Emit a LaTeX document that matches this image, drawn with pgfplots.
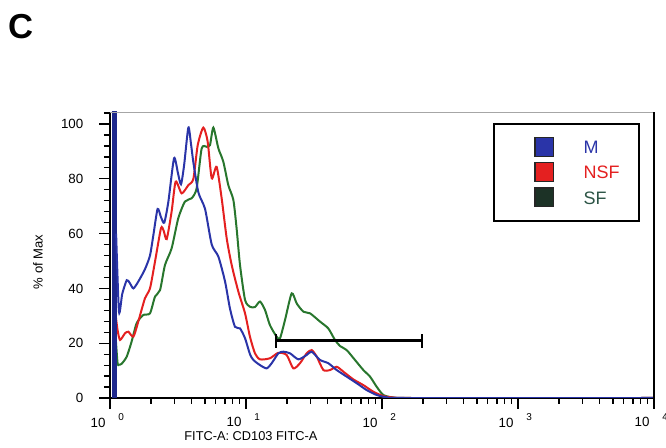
\documentclass[border=0pt]{standalone}
\usepackage{pgfplots}
\pgfplotsset{compat=1.18}
\usepackage{fontspec}
\setmainfont{Liberation Sans}
\definecolor{mblue}{RGB}{42,52,168}
\definecolor{spikeblue}{RGB}{30,40,140}
\definecolor{nred}{RGB}{228,32,32}
\definecolor{sgreen}{RGB}{40,118,45}
\definecolor{sqgreen}{RGB}{28,50,38}
\definecolor{sftext}{RGB}{45,85,70}
\newcommand\dec[1]{10\hspace{9.75pt}\raisebox{5pt}{\fontsize{7.5}{8}\selectfont #1}}
\begin{document}
\begin{tikzpicture}
\path[use as bounding box] (-82.5pt,-37.5pt) rectangle (417pt,298.5pt);
\begin{axis}[
  name=ax, at={(0,0)}, anchor=south west,
  width=408pt, height=214.5pt, scale only axis,
  xmin=0, xmax=4, ymin=0, ymax=104.4,
  axis x line*=bottom, axis y line*=left,
  axis line style={line width=1.1pt, black},
  tick align=outside,
  major tick length=8pt, minor tick length=4.5pt,
  every tick/.style={black, line width=0.9pt},
  xtick={0,1,2,3,4},
  xticklabels={\dec{0},\dec{1},\dec{2},\dec{3},\dec{4}},
  minor xtick={0.301,0.477,0.602,0.699,0.778,0.845,0.903,0.954,
               1.301,1.477,1.602,1.699,1.778,1.845,1.903,1.954,
               2.301,2.477,2.602,2.699,2.778,2.845,2.903,2.954,
               3.301,3.477,3.602,3.699,3.778,3.845,3.903,3.954},
  ytick={0,20,40,60,80,100},
  minor ytick={4,8,12,16,24,28,32,36,44,48,52,56,64,68,72,76,84,88,92,96,104},
  tick label style={font=\fontsize{10}{12}\selectfont},
  xticklabel style={xshift=-2pt},
  yticklabel style={xshift=-8.5pt},
  /pgf/number format/assume math mode=true,
  ylabel={\% of Max},
  ylabel style={at={(axis description cs:-0.1324,0.4755)}, anchor=center, font=\fontsize{9.8}{12}\selectfont},
  xlabel={FITC-A: CD103 FITC-A},
  xlabel style={at={(axis description cs:0.259,-0.1329)}, anchor=center, font=\fontsize{9.6}{12}\selectfont},
  legend cell align=left,
  legend style={at={(0.704,0.9615)}, anchor=north west, draw=black, line width=1.5pt,
    inner xsep=12.25pt, inner ysep=10pt, row sep=4pt,
    font=\fontsize{13.5}{14}\selectfont,
    nodes={text height=10pt, text depth=0pt, inner sep=2pt}},
]
% SF (green)
\addplot[sgreen, line width=1.5pt, smooth, tension=0.4, forget plot] coordinates {
(0.035,27) (0.055,13) (0.066,12.2) (0.086,12.5) (0.123,15.1) (0.159,20.6) (0.196,27.3)
(0.245,30.3) (0.294,30.9) (0.331,37) (0.368,39.4) (0.404,48.5) (0.453,54.6) (0.502,65.6)
(0.551,71.7) (0.600,72.9) (0.637,76.5) (0.674,91.1) (0.711,91.7) (0.735,92.3) (0.760,98.7)
(0.797,91.1) (0.833,86.3) (0.870,77.7) (0.907,72.3) (0.931,61.9) (0.956,48.5) (0.993,35.8)
(1.029,33.3) (1.066,33.2) (1.103,35.2) (1.140,32.1) (1.176,26.6) (1.225,22.4) (1.25,21.8)
(1.287,28.5) (1.336,38.2) (1.373,34.5) (1.422,31.5) (1.471,30.9) (1.544,27.9) (1.605,25.4)
(1.654,21.2) (1.691,19.0) (1.740,17.5) (1.801,13.9) (1.863,10.2) (1.912,7.8) (1.961,4.1)
(2.01,1.1) (2.08,0.2) (2.2,0) (4,0)};
% NSF (red)
\addplot[nred, line width=1.5pt, smooth, tension=0.4, forget plot] coordinates {
(0.035,33) (0.055,25) (0.074,21.2) (0.110,23.6) (0.135,24.2) (0.172,22.4) (0.208,27.9)
(0.257,36.4) (0.294,40) (0.331,49.8) (0.375,62) (0.395,61) (0.417,58) (0.453,68) (0.483,79)
(0.527,74.7) (0.576,77.7) (0.613,80) (0.645,92.3) (0.686,98.7) (0.718,93.6) (0.748,80.2)
(0.784,84.4) (0.821,72.9) (0.858,58.3) (0.895,48.5) (0.944,38.8) (0.993,30.9) (1.029,22.4)
(1.066,16.3) (1.103,14.1) (1.176,14.5) (1.238,16.5) (1.299,15.7) (1.348,10.8) (1.397,12.7)
(1.446,16.3) (1.483,17.5) (1.520,15.1) (1.569,10.2) (1.618,10.2) (1.667,11.4) (1.716,9.6)
(1.789,6.8) (1.863,4.7) (1.936,2.3) (2.01,0.7) (2.08,0.2) (2.2,0) (4,0)};
% M (blue) spike
\addplot[draw=spikeblue, fill=spikeblue, forget plot] coordinates {
(0.013,0) (0.013,110) (0.045,110) (0.045,0)} -- cycle;
% M (blue)
\addplot[mblue, line width=1.5pt, smooth, tension=0.4, forget plot] coordinates {
(0.045,60) (0.066,31.5) (0.09,38) (0.123,43) (0.145,42) (0.172,40) (0.208,42.5) (0.257,47)
(0.294,52) (0.319,59.5) (0.350,69) (0.375,66) (0.399,64) (0.429,71.6) (0.471,87.5) (0.50,82)
(0.522,78) (0.545,85) (0.576,98.7) (0.595,93) (0.613,86) (0.650,75) (0.699,69) (0.748,56)
(0.797,51.6) (0.846,42.5) (0.882,32.7) (0.919,26) (0.956,25.4) (0.993,21.8) (1.029,16)
(1.054,13.9) (1.103,12.0) (1.152,10.8) (1.189,12.7) (1.238,16.3) (1.275,16.9) (1.324,16.3)
(1.385,14.1) (1.446,15.7) (1.483,16.9) (1.544,13.9) (1.605,12.7) (1.667,10.2) (1.740,7.8)
(1.814,5.4) (1.887,2.9) (1.961,1.1) (2.04,0.2) (2.15,0) (4,0)};
% gate
\addplot[black, line width=1.6pt, forget plot] coordinates {(1.22,21) (2.294,21)};
\addplot[black, line width=1.6pt, forget plot] coordinates {(1.22,18.4) (1.22,23.3)};
\addplot[black, line width=1.6pt, forget plot] coordinates {(2.294,18.4) (2.294,23.3)};
% legend
\addlegendimage{legend image code/.code={\path (-17.75pt,0); \draw[fill=mblue, draw=black!85, line width=0.8pt] (0pt,-7pt) rectangle (14pt,7pt); \path (33.75pt,0);}}
\addlegendentry{\textcolor{mblue}{M}}
\addlegendimage{legend image code/.code={\path (-17.75pt,0); \draw[fill=nred, draw=black!85, line width=0.8pt] (0pt,-7pt) rectangle (14pt,7pt); \path (33.75pt,0);}}
\addlegendentry{\textcolor{nred}{NSF}}
\addlegendimage{legend image code/.code={\path (-17.75pt,0); \draw[fill=sqgreen, draw=black!85, line width=0.8pt] (0pt,-7pt) rectangle (14pt,7pt); \path (33.75pt,0);}}
\addlegendentry{\textcolor{sftext}{SF}}
\end{axis}
\draw[gray!70, line width=0.6pt] (ax.north west) -- (ax.north east);
\draw[black, line width=1.1pt] (ax.south east) -- (ax.north east);
\node[font=\bfseries\fontsize{26}{26}\selectfont] at (-66.75pt,278.25pt) {C};
\end{tikzpicture}
\end{document}
